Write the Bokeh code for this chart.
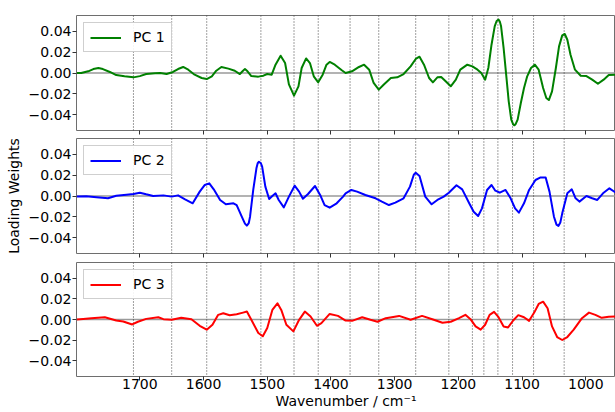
from bokeh.plotting import figure
from bokeh.models import Range1d, Span, FixedTicker, Legend, LegendItem
from bokeh.layouts import column
from bokeh.embed import file_html
from bokeh.resources import INLINE

# ---------------- data ----------------
PC1 = [(1799, 0.0), (1792, 0.0), (1781, 0.0016), (1773, 0.0038), (1765, 0.0048), (1758, 0.0038),
       (1747, 0.001), (1737, -0.002), (1724, -0.0032), (1710, -0.0042), (1700, -0.003), (1690, -0.001),
       (1676, -0.0003), (1668, 0.0), (1658, -0.001), (1648, 0.001), (1640, 0.0038), (1632, 0.0058),
       (1624, 0.0032), (1614, -0.0016), (1603, -0.0048), (1595, -0.0058), (1587, -0.0032), (1580, 0.0022),
       (1572, 0.0058), (1561, 0.0042), (1551, 0.0022), (1543, -0.001), (1538, 0.0022), (1535, 0.0038),
       (1531, 0.0016), (1525, -0.003), (1514, -0.0035), (1506, -0.0026), (1500, -0.001), (1493, -0.0016),
       (1487, 0.008), (1479, 0.0166), (1472, 0.0096), (1466, -0.011), (1458, -0.0218), (1451, -0.0128),
       (1446, 0.0048), (1439, 0.014), (1433, 0.0096), (1427, -0.0032), (1420, -0.009), (1413, -0.0016),
       (1407, 0.008), (1402, 0.0106), (1394, 0.008), (1383, 0.0026), (1377, 0.0), (1367, 0.0016),
       (1356, 0.0058), (1348, 0.008), (1340, 0.0032), (1333, -0.0096), (1325, -0.016), (1317, -0.011),
       (1306, -0.0048), (1296, -0.0042), (1286, -0.001), (1275, 0.0064), (1267, 0.0135), (1261, 0.0157),
       (1254, 0.008), (1246, -0.0048), (1240, -0.009), (1233, -0.0042), (1227, -0.0038), (1220, -0.008),
       (1212, -0.0128), (1204, -0.0064), (1197, 0.0032), (1186, 0.008), (1178, 0.0064), (1170, 0.0032),
       (1164, 0.0), (1158, -0.0064), (1153, 0.0048), (1148, 0.0272), (1143, 0.0449), (1140, 0.0500),
       (1137, 0.0513), (1135, 0.0495), (1133, 0.0449), (1129, 0.024), (1125, -0.0016), (1121, -0.0272),
       (1117, -0.0449), (1114, -0.0495), (1112, -0.0503), (1110, -0.0490), (1107, -0.0449), (1102, -0.0288),
       (1097, -0.0144), (1092, -0.0032), (1086, 0.0048), (1080, 0.008), (1074, 0.0032), (1067, -0.0144),
       (1062, -0.024), (1058, -0.026), (1053, -0.0176), (1047, 0.0048), (1042, 0.0256), (1037, 0.0362),
       (1033, 0.0375), (1029, 0.032), (1024, 0.0176), (1017, 0.0032), (1008, -0.0026), (999, -0.003),
       (990, -0.0064), (981, -0.0103), (972, -0.0064), (964, -0.002), (953, -0.0016)]

PC2 = [(1799, -0.0006), (1784, -0.0003), (1768, -0.0013), (1750, -0.0022), (1737, 0.0003), (1721, 0.0013),
       (1710, 0.0019), (1700, 0.0032), (1690, 0.0016), (1679, 0.0), (1663, 0.0006), (1650, -0.0006),
       (1640, 0.0006), (1629, -0.0032), (1617, -0.007), (1606, 0.0042), (1598, 0.0106), (1591, 0.0122),
       (1584, 0.0064), (1574, -0.0038), (1565, -0.008), (1553, -0.007), (1548, -0.0087), (1540, -0.0199),
       (1535, -0.0265), (1532, -0.0285), (1529, -0.0260), (1527, -0.0199), (1522, 0.0058), (1517, 0.0266),
       (1515, 0.0315), (1513, 0.033), (1510, 0.0315), (1508, 0.0282), (1503, 0.009), (1497, -0.0029),
       (1492, 0.0), (1487, 0.0026), (1482, -0.0038), (1474, -0.0109), (1466, -0.0006), (1457, 0.0099),
       (1450, 0.0042), (1444, -0.0026), (1436, 0.0019), (1425, 0.0096), (1417, 0.001), (1410, -0.0087),
       (1402, -0.0112), (1391, -0.007), (1381, -0.0006), (1377, 0.0026), (1368, 0.0058), (1359, 0.0042),
       (1346, 0.001), (1330, -0.0022), (1320, -0.0054), (1309, -0.0087), (1299, -0.0064), (1286, -0.0022),
       (1276, 0.009), (1270, 0.0205), (1267, 0.0224), (1261, 0.0192), (1252, -0.0006), (1242, -0.008),
       (1233, -0.0038), (1223, -0.0006), (1215, 0.0032), (1203, 0.0103), (1194, 0.0064), (1183, -0.007),
       (1176, -0.0151), (1169, -0.0192), (1163, -0.0119), (1155, 0.0058), (1148, 0.0106), (1142, 0.0051),
       (1135, 0.0032), (1126, 0.0058), (1118, -0.0022), (1111, -0.0119), (1105, -0.016), (1097, -0.007),
       (1089, 0.0058), (1079, 0.0154), (1071, 0.0179), (1063, 0.0179), (1057, 0.0042), (1050, -0.0199),
       (1046, -0.0275), (1043, -0.0288), (1040, -0.0255), (1037, -0.0167), (1029, 0.0026), (1022, 0.0064),
       (1016, -0.0022), (1010, -0.0054), (999, 0.0), (990, -0.0022), (982, -0.0038), (972, 0.0032),
       (963, 0.0074), (953, 0.0032)]

PC3 = [(1799, 0.0), (1789, 0.0006), (1776, 0.0013), (1755, 0.0022), (1737, -0.001), (1726, -0.0019),
       (1712, -0.0048), (1703, -0.0022), (1690, 0.0006), (1671, 0.0022), (1663, 0.0003), (1650, -0.0003),
       (1635, 0.0016), (1619, 0.0003), (1606, -0.0061), (1595, -0.0099), (1586, -0.0051), (1577, 0.0045),
       (1569, 0.0061), (1559, 0.0042), (1548, 0.0051), (1538, 0.0067), (1532, 0.0077), (1525, -0.0003),
       (1514, -0.0131), (1507, -0.0163), (1500, -0.0083), (1492, 0.0093), (1484, 0.0157), (1478, 0.0093),
       (1470, -0.0051), (1459, -0.0115), (1450, -0.0003), (1441, 0.0077), (1432, 0.0029), (1422, -0.0061),
       (1415, -0.0035), (1402, 0.0054), (1389, 0.0035), (1377, -0.001), (1367, -0.0013), (1351, 0.0022),
       (1338, -0.0003), (1327, -0.0022), (1314, 0.0013), (1293, 0.0035), (1275, -0.0003), (1257, 0.0035),
       (1241, 0.0003), (1225, -0.0032), (1212, -0.0022), (1199, 0.0013), (1189, 0.0045), (1181, 0.0003),
       (1173, -0.0067), (1165, -0.0099), (1158, -0.0051), (1151, 0.0045), (1144, 0.0074), (1137, 0.0022),
       (1129, -0.0067), (1122, -0.0077), (1114, -0.001), (1106, 0.0042), (1097, 0.0022), (1089, -0.0013),
       (1081, 0.0067), (1074, 0.0151), (1067, 0.0173), (1060, 0.0109), (1053, -0.0067), (1045, -0.017),
       (1037, -0.0199), (1029, -0.017), (1019, -0.0099), (1006, 0.0013), (995, 0.0067), (985, 0.0045),
       (975, 0.0016), (964, 0.0026), (953, 0.0029)]

MARKERS = [1710, 1650, 1595, 1510, 1458, 1420, 1370, 1325, 1267, 1215, 1178, 1160, 1138, 1115, 1082, 1034]

X_TICKS = [1700, 1600, 1500, 1400, 1300, 1200, 1100, 1000]
Y_TICKS = [-0.04, -0.02, 0.0, 0.02, 0.04]
Y_TICK_LABELS = ["\u22120.04", "\u22120.02", "0.00", "0.02", "0.04"]

SERIES = [("PC 1", PC1, "#008000"), ("PC 2", PC2, "#0000ff"), ("PC 3", PC3, "#ff0000")]

FONT = "DejaVu Sans"
X_START, X_END = 1799.4, 953.4
Y_MIN, Y_MAX = -0.0553, 0.0553
FRAME_COLOR = "#6e6e6e"
TICK_COLOR = "#333333"


def make_panel(label, pairs, color, height, top, bottom, xlabels, ylabel, xlabel):
    p = figure(width=615, height=height, output_backend="svg", toolbar_location=None,
               x_range=Range1d(X_START, X_END), y_range=Range1d(Y_MIN, Y_MAX),
               min_border_left=76, min_border_right=0,
               min_border_top=top, min_border_bottom=bottom)
    p.background_fill_color = "white"
    p.border_fill_color = "white"
    p.outline_line_color = FRAME_COLOR
    p.outline_line_width = 1
    p.xgrid.visible = False
    p.ygrid.visible = False

    p.add_layout(Span(location=0, dimension="width", line_color="#9a9a9a",
                      line_width=1.3, level="underlay"))
    for m in MARKERS:
        p.add_layout(Span(location=m, dimension="height", line_color="#222222",
                          line_dash="1 2", line_width=1, line_alpha=0.85, level="underlay"))

    xs = [a for a, b in pairs]
    ys = [b for a, b in pairs]
    r = p.line(xs, ys, line_color=color, line_width=2, line_join="round")

    legend = Legend(items=[LegendItem(label=label, renderers=[r])], location="top_left")
    legend.margin = 7
    legend.padding = 6
    legend.spacing = 0
    legend.glyph_width = 31
    legend.glyph_height = 15
    legend.label_height = 15
    legend.label_standoff = 12
    legend.label_text_font = FONT
    legend.label_text_font_size = "14px"
    legend.label_text_color = "black"
    legend.border_line_color = "#a0a0a0"
    legend.border_line_width = 1
    legend.background_fill_alpha = 0.9
    p.add_layout(legend)

    for ax in (p.xaxis[0], p.yaxis[0]):
        ax.axis_line_color = None
        ax.major_tick_in = 0
        ax.major_tick_out = 4
        ax.major_tick_line_color = TICK_COLOR
        ax.minor_tick_line_color = None
        ax.major_label_text_font = FONT
        ax.major_label_text_font_size = "14px"
        ax.major_label_text_color = "black"
        ax.axis_label_text_font = FONT
        ax.axis_label_text_font_size = "14px"
        ax.axis_label_text_font_style = "normal"
        ax.axis_label_text_color = "black"

    p.yaxis.ticker = FixedTicker(ticks=Y_TICKS)
    p.yaxis.major_label_overrides = {t: s for t, s in zip(Y_TICKS, Y_TICK_LABELS)}
    p.yaxis.major_label_standoff = 1
    if ylabel:
        p.yaxis.axis_label = ylabel
        p.yaxis.axis_label_standoff = 4
    if xlabels:
        p.xaxis.ticker = FixedTicker(ticks=X_TICKS)
        p.xaxis.major_label_standoff = -2
        p.xaxis.axis_label = xlabel
        p.xaxis.axis_label_standoff = 1
    else:
        # tick marks only, no labels
        p.xaxis.ticker = FixedTicker(ticks=[], minor_ticks=X_TICKS)
        p.xaxis.minor_tick_line_color = TICK_COLOR
        p.xaxis.minor_tick_in = 0
        p.xaxis.minor_tick_out = 4
        p.xaxis.major_label_standoff = 0
    return p


p1 = make_panel(*SERIES[0], height=137, top=15, bottom=7, xlabels=False, ylabel=None, xlabel=None)
p2 = make_panel(*SERIES[1], height=124, top=1, bottom=8, xlabels=False, ylabel="Loading Weights", xlabel=None)
p3 = make_panel(*SERIES[2], height=151, top=1, bottom=36, xlabels=True, ylabel=None,
                xlabel="Wavenumber / cm\u207b\u00b9")

layout = column(p1, p2, p3, spacing=0)

with open("out.html", "w") as f:
    f.write(file_html(layout, INLINE))
